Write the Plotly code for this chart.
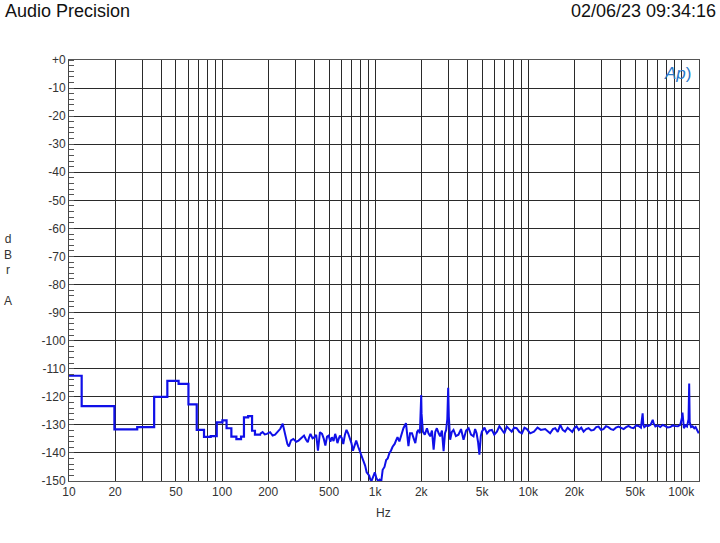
import plotly.graph_objects as go

# low-frequency FFT bins (drawn as steps)
step_freq = [10, 12.1, 19.8, 27.9, 36, 43.9, 52, 60.3, 68.3, 76.2, 84.3, 92.3,
             100.5, 107, 115, 124, 133, 139, 148, 157, 164, 177]
step_dbra = [-112.5, -123.3, -131.6, -130.8, -120.0, -114.3, -115.4, -122.7, -131.8,
             -134.3, -134.0, -129.1, -128.4, -131.2, -134.2, -135.1, -134.2, -127.3,
             -126.9, -132.1, -133.5, -133.2]

# remaining spectrum
freq = [177, 184, 190, 196, 206, 214, 222, 232, 240, 249, 257, 267, 273, 282, 292, 305,
        316, 330, 343, 353, 363, 370, 378, 390, 400, 412, 423, 436, 450, 462, 473, 485,
        497, 510, 522, 535, 548, 557, 567, 578, 589, 604, 619, 635, 650, 666, 682, 700,
        716, 734, 752, 775, 799, 818, 839, 860, 880, 898, 915, 930, 948, 970, 995, 1020,
        1045, 1070, 1097, 1120, 1151, 1180, 1208, 1240, 1268, 1300, 1341, 1370, 1400,
        1440, 1480, 1530, 1590, 1620, 1650, 1690, 1740, 1790, 1830, 1880, 1920, 1960,
        1990, 2000, 2010, 2050, 2110, 2180, 2230, 2290, 2350, 2410, 2470, 2530, 2600,
        2660, 2730, 2800, 2860, 2910, 2960, 3000, 3030, 3090, 3170, 3250, 3370, 3500,
        3640, 3780, 3930, 4080, 4230, 4390, 4500, 4600, 4700, 4800, 4900, 4980, 5180,
        5380, 5580, 5790, 6000, 6240, 6480, 6720, 6980, 7240, 7500, 7800, 8100, 8400,
        8750, 9100, 9450, 9800, 10300, 10900, 11500, 12100, 12900, 13900, 14500, 15000,
        15600, 16200, 16800, 17400, 18100, 18800, 19400, 20000, 20700, 21400, 22200,
        23000, 23900, 24800, 25800, 26800, 27800, 28800, 29900, 31000, 32200, 33400,
        34700, 36000, 37400, 38900, 40400, 42000, 43600, 45200, 47000, 48800, 50700,
        52600, 54500, 55500, 55900, 56500, 57300, 59200, 61100, 63000, 64500, 65100,
        66000, 67700, 70200, 72900, 75700, 78600, 81600, 84700, 88000, 91300, 95000,
        98400, 101000, 101800, 102800, 104000, 106500, 109000, 111500, 112600, 113500,
        115800, 118500, 121600, 124000, 126000, 128500, 130000]
dbra = [-133.2, -132.6, -133.4, -133.2, -132.6, -133.8, -133.5, -132.4, -131.4, -129.6,
        -133.2, -136.8, -137.7, -135.5, -135.0, -136.0, -135.6, -134.8, -133.8, -135.2,
        -136.2, -134.5, -133.2, -134.8, -134.4, -133.6, -139.2, -132.6, -133.2, -135.0,
        -137.4, -134.2, -133.8, -136.0, -134.4, -135.8, -133.2, -134.5, -136.5, -135.0,
        -133.8, -134.6, -136.8, -133.5, -131.8, -133.0, -134.4, -136.5, -139.2, -137.5,
        -135.6, -137.8, -139.8, -141.0, -142.7, -144.5, -146.9, -147.5, -148.1, -149.5,
        -149.9, -148.5, -146.9, -149.0, -150.0, -149.5, -150.0, -146.0, -145.0, -142.5,
        -142.0, -140.0, -139.2, -137.8, -136.8, -135.5, -134.4, -135.9, -133.5, -131.2,
        -129.4, -134.0, -137.6, -133.0, -133.0, -135.0, -136.5, -132.5, -131.8, -133.0,
        -126.0, -119.4, -126.0, -132.4, -133.5, -131.2, -133.0, -134.1, -132.0, -138.8,
        -132.5, -131.2, -133.0, -134.1, -132.0, -139.4, -133.0, -131.8, -128.0, -116.8,
        -127.0, -135.3, -132.5, -131.8, -134.0, -133.5, -131.5, -135.3, -132.0, -131.2,
        -133.5, -134.1, -131.5, -133.0, -136.0, -140.6, -134.0, -132.4, -131.0, -133.0,
        -132.0, -131.8, -133.5, -132.4, -130.5, -131.8, -133.0, -130.6, -131.5, -132.4,
        -131.0, -131.2, -132.5, -133.0, -131.0, -131.5, -133.0, -132.4, -131.0, -131.8,
        -131.5, -133.0, -131.5, -131.2, -132.5, -130.0, -131.8, -132.4, -131.0, -131.8,
        -132.5, -131.2, -130.5, -131.8, -131.0, -132.4, -131.5, -131.2, -132.0, -131.8,
        -130.8, -130.6, -131.8, -131.5, -130.5, -130.8, -131.5, -131.8, -131.0, -130.6,
        -131.2, -131.5, -130.8, -130.4, -131.0, -131.2, -130.2, -130.4, -131.0, -128.0,
        -125.9, -130.0, -130.8, -130.2, -130.4, -130.0, -128.5, -128.2, -129.5, -130.6,
        -130.2, -130.8, -130.0, -130.4, -130.9, -130.8, -130.2, -130.4, -130.5, -130.0,
        -127.5, -125.6, -129.5, -131.2, -130.2, -130.6, -128.0, -115.3, -129.0, -130.8,
        -130.5, -131.2, -130.8, -131.5, -132.0, -133.0]

# axis ticks
x_grid = [m * 10 ** d for d in range(1, 6) for m in range(1, 10)]
x_labels = {10: "10", 20: "20", 50: "50", 100: "100", 200: "200", 500: "500",
            1000: "1k", 2000: "2k", 5000: "5k", 10000: "10k", 20000: "20k",
            50000: "50k", 100000: "100k"}
y_ticks = list(range(-150, 1, 10))
y_text = ["+0" if v == 0 else str(v) for v in y_ticks]

font = "Liberation Sans, Arial, sans-serif"
trace_color = "#1010e8"

fig = go.Figure()
fig.add_trace(go.Scatter(x=step_freq, y=step_dbra, mode="lines", line_shape="hv",
                         line=dict(color=trace_color, width=2.2), showlegend=False))
fig.add_trace(go.Scatter(x=freq, y=dbra, mode="lines",
                         line=dict(color=trace_color, width=2), showlegend=False))

fig.update_xaxes(type="log", range=[1, 5.1157], tickvals=x_grid,
                 ticktext=[x_labels.get(v, "") for v in x_grid],
                 showgrid=True, gridcolor="#2a2a2a", gridwidth=1,
                 showline=True, linecolor="#555", linewidth=1, mirror=True,
                 ticks="", zeroline=False,
                 tickfont=dict(family=font, size=12, color="#333"))
fig.update_yaxes(range=[-150, 0], tickvals=y_ticks, ticktext=y_text,
                 showgrid=True, gridcolor="#2a2a2a", gridwidth=1,
                 showline=True, linecolor="#444", linewidth=1, mirror=True,
                 ticks="", zeroline=False,
                 minor=dict(dtick=2, ticks="inside", ticklen=5, tickcolor="#555",
                            showgrid=False),
                 tickfont=dict(family=font, size=12, color="#333"))

fig.update_layout(
    width=720, height=543,
    margin=dict(l=69, r=21, t=60, b=62),
    paper_bgcolor="white", plot_bgcolor="white",
    font=dict(family=font, color="#222"),
    annotations=[
        dict(text="Audio Precision", xref="paper", yref="paper", x=-0.1048, y=1.1164,
             xanchor="left", yanchor="middle", showarrow=False,
             font=dict(size=18, color="#111")),
        dict(text="02/06/23 09:34:16", xref="paper", yref="paper", x=1.0306, y=1.1164,
             xanchor="right", yanchor="middle", showarrow=False,
             font=dict(size=18, color="#111")),
        dict(text="d<br>B<br>r<br><br>A", xref="paper", yref="paper", x=-0.097, y=0.501,
             xanchor="center", yanchor="middle", showarrow=False,
             font=dict(size=12, color="#333")),
        dict(text="Hz", xref="paper", yref="paper", x=0.4987, y=-0.076,
             xanchor="center", yanchor="middle", showarrow=False,
             font=dict(size=12, color="#333")),
        dict(text="<i>Ap</i>)", xref="paper", yref="paper", x=0.99, y=0.968,
             xanchor="right", yanchor="middle", showarrow=False,
             font=dict(size=17, color="#2a78c8")),
    ],
)

# page body has a default 8px margin; drop it so the figure sits at the window corner
fig.write_html("out.html", config={"displayModeBar": False},
               post_script="document.body.style.margin='0';")
